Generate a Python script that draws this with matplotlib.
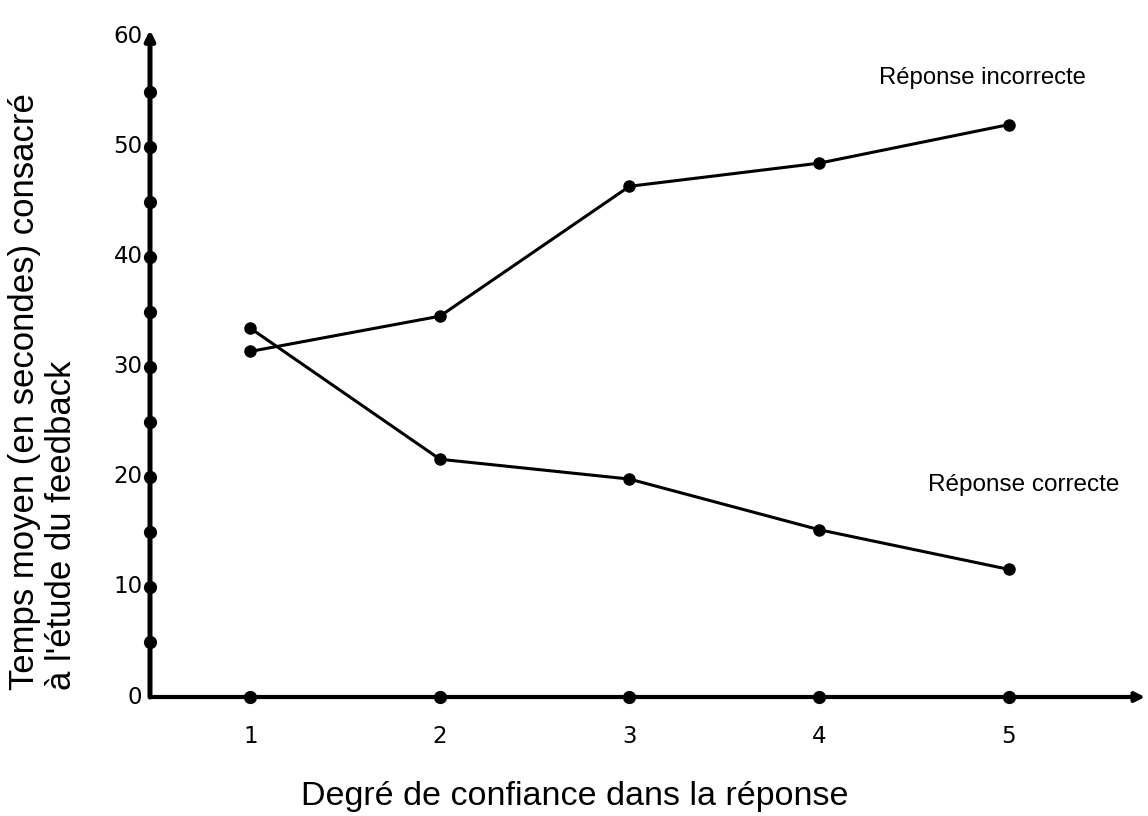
import matplotlib
matplotlib.use("Agg")
import matplotlib.pyplot as plt

# Données
degres = [1, 2, 3, 4, 5]
incorrecte = [31.4, 34.6, 46.4, 48.5, 52.0]
correcte = [33.5, 21.6, 19.8, 15.2, 11.6]
y_labels = [0, 10, 20, 30, 40, 50, 60]
y_dots = [5, 10, 15, 20, 25, 30, 35, 40, 45, 50, 55]

fig = plt.figure(figsize=(11.48, 8.16), dpi=100)
ax = fig.add_axes([150 / 1148, 1 - 697 / 816, 995 / 1148, 667 / 816])
ax.set_xlim(0.47, 5.72)
ax.set_ylim(0, 60.6)
ax.axis("off")

# Axes dessinés à la main (avec flèches)
ax.annotate("", xy=(5.72, 0), xytext=(0.47, 0),
            arrowprops=dict(arrowstyle="-|>", lw=3, color="black",
                            mutation_scale=14, shrinkA=0, shrinkB=0))
ax.annotate("", xy=(0.47, 60.6), xytext=(0.47, 0),
            arrowprops=dict(arrowstyle="-|>", lw=3.6, color="black",
                            mutation_scale=14, shrinkA=0, shrinkB=0))

# Points de graduation
ax.plot([0.47] * len(y_dots), y_dots, "o", color="black", ms=8.5, clip_on=False)
ax.plot(degres, [0] * len(degres), "o", color="black", ms=8.5, clip_on=False)

for v in y_labels:
    ax.text(0.43, v, str(v), ha="right", va="center", fontsize=16.5,
            family="DejaVu Sans")
for d in degres:
    ax.text(d, -3.6, str(d), ha="center", va="center", fontsize=16.5,
            family="DejaVu Sans")

# Séries
ax.plot(degres, incorrecte, "-o", color="black", lw=2.2, ms=8, clip_on=False)
ax.plot(degres, correcte, "-o", color="black", lw=2.2, ms=8, clip_on=False)

ax.text(4.86, 56.2, "Réponse incorrecte", ha="center", va="center",
        fontsize=17.2, family="Liberation Sans")
ax.text(5.08, 19.3, "Réponse correcte", ha="center", va="center",
        fontsize=17.5, family="Liberation Sans")

fig.text(43 / 1148, 1 - 690 / 816,
         "Temps moyen (en secondes) consacré\nà l'étude du feedback",
         rotation=90, ha="center", va="bottom", fontsize=25,
         family="Liberation Sans", linespacing=1.12, multialignment="left")
fig.text(575 / 1148, 1 - 797 / 816, "Degré de confiance dans la réponse",
         ha="center", va="center", fontsize=24.5, family="Liberation Sans")

fig.savefig("out.png", dpi=100)
